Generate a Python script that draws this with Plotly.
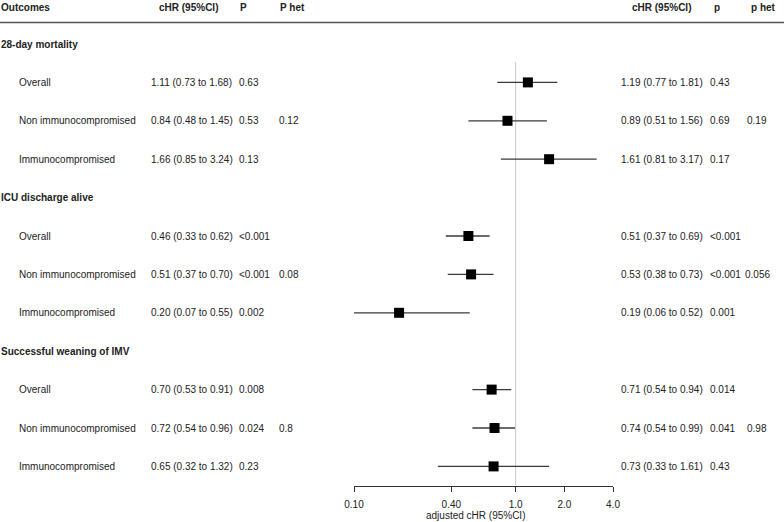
import math
import plotly.graph_objects as go

# ---------------- data ----------------
sections = ["28-day mortality", "ICU discharge alive", "Successful weaning of IMV"]
subgroups = ["Overall", "Non immunocompromised", "Immunocompromised"]

crude_hr = [1.11, 0.84, 1.66, 0.46, 0.51, 0.20, 0.70, 0.72, 0.65]
crude_lo = [0.73, 0.48, 0.85, 0.33, 0.37, 0.07, 0.53, 0.54, 0.32]
crude_hi = [1.68, 1.45, 3.24, 0.62, 0.70, 0.55, 0.91, 0.96, 1.32]
crude_p = ["0.63", "0.53", "0.13", "<0.001", "<0.001", "0.002", "0.008", "0.024", "0.23"]
crude_phet = ["", "0.12", "", "", "0.08", "", "", "0.8", ""]

adj_hr = [1.19, 0.89, 1.61, 0.51, 0.53, 0.19, 0.71, 0.74, 0.73]
adj_lo = [0.77, 0.51, 0.81, 0.37, 0.38, 0.06, 0.54, 0.54, 0.33]
adj_hi = [1.81, 1.56, 3.17, 0.69, 0.73, 0.52, 0.94, 0.99, 1.61]
adj_p = ["0.43", "0.69", "0.17", "<0.001", "<0.001", "0.001", "0.014", "0.041", "0.43"]
adj_phet = ["", "0.19", "", "", "0.056", "", "", "0.98", ""]

tick_vals = [0.1, 0.4, 1.0, 2.0, 4.0]
tick_text = ["0.10", "0.40", "1.0", "2.0", "4.0"]
x_title = "adjusted cHR (95%CI)"

left_headers = ["Outcomes", "cHR (95%CI)", "P", "P het"]
right_headers = ["cHR (95%CI)", "p", "p het"]

# ---------------- layout helpers ----------------
W, H = 784, 522
FONT = "Liberation Sans, Arial, sans-serif"
TXT = "#222222"
ROW0_PX, ROW_STEP = 44.0, 38.4
AXIS_PX = 486.0


def px2row(py):
    return (py - ROW0_PX) / ROW_STEP


def px(x):
    return x / W


n_sub = len(subgroups)
sec_rows = [s * (n_sub + 1) for s in range(len(sections))]
sub_rows = [s * (n_sub + 1) + k + 1 for s in range(len(sections)) for k in range(n_sub)]
sub_labels = [subgroups[k] for s in range(len(sections)) for k in range(n_sub)]

fig = go.Figure()

# CI lines
xs, ys = [], []
for lo, hi, r in zip(adj_lo, adj_hi, sub_rows):
    xs += [lo, hi, None]
    ys += [r, r, None]
fig.add_trace(go.Scatter(x=xs, y=ys, mode="lines",
                         line=dict(color="#3a3a3a", width=1.3),
                         hoverinfo="skip", showlegend=False))
# point estimates
fig.add_trace(go.Scatter(x=adj_hr, y=sub_rows, mode="markers",
                         marker=dict(symbol="square", size=10, color="black",
                                     line=dict(width=0)),
                         showlegend=False))

# reference line at 1
fig.add_shape(type="line", xref="x", yref="y", x0=1, x1=1,
              y0=px2row(62), y1=px2row(485),
              line=dict(color="#c8c8c8", width=1), layer="below")
# header rule
fig.add_shape(type="line", xref="paper", yref="y", x0=0, x1=1,
              y0=px2row(22.5), y1=px2row(22.5),
              line=dict(color="#555555", width=1.6))

ann = []


def text(x_px, row, s, bold=False, anchor="left"):
    ann.append(dict(x=px(x_px), y=row, xref="paper", yref="y", text=(f"<b>{s}</b>" if bold else s),
                    showarrow=False, xanchor=anchor, yanchor="middle",
                    font=dict(family=FONT, size=10, color=TXT),
                    borderpad=0, borderwidth=0))


hdr_row = px2row(7)
for s, xp in zip(left_headers, [1, 159, 240, 280]):
    text(xp, hdr_row, s, bold=True)
for s, xp in zip(right_headers, [632, 714, 751]):
    text(xp, hdr_row, s, bold=True)

for s, r in zip(sections, sec_rows):
    text(1, r, s, bold=True)

for i, r in enumerate(sub_rows):
    text(19, r, sub_labels[i])
    text(151, r, f"{crude_hr[i]:.2f} ({crude_lo[i]:.2f} to {crude_hi[i]:.2f})")
    text(239, r, crude_p[i])
    if crude_phet[i]:
        text(279, r, crude_phet[i])
    text(621, r, f"{adj_hr[i]:.2f} ({adj_lo[i]:.2f} to {adj_hi[i]:.2f})")
    text(710, r, adj_p[i])
    if adj_phet[i]:
        text(757, r, adj_phet[i], anchor="center")

# axis title
ann.append(dict(x=px(476), y=1 - 515 / H, xref="paper", yref="paper", text=x_title,
                showarrow=False, xanchor="center", yanchor="middle",
                font=dict(family=FONT, size=10, color=TXT),
                borderpad=0, borderwidth=0))

fig.update_layout(
    width=W, height=H,
    margin=dict(l=0, r=0, t=0, b=0, pad=0, autoexpand=False),
    paper_bgcolor="white", plot_bgcolor="white",
    annotations=ann,
    xaxis=dict(type="log", domain=[px(354), px(613)],
               range=[math.log10(tick_vals[0]), math.log10(tick_vals[-1])],
               tickvals=tick_vals, ticktext=tick_text,
               showline=True, linecolor="#333333", linewidth=1,
               ticks="outside", ticklen=5, tickcolor="#333333", tickwidth=1,
               ticklabelstandoff=4,
               showgrid=False, zeroline=False, automargin=False,
               tickfont=dict(family=FONT, size=10, color=TXT),
               anchor="y", fixedrange=True),
    yaxis=dict(domain=[1 - AXIS_PX / H, 1], range=[px2row(AXIS_PX), px2row(0)],
               visible=False, fixedrange=True, automargin=False),
    font=dict(family=FONT, size=10, color=TXT),
)

fig.write_html("out.html", config={"displayModeBar": False, "staticPlot": True},
               post_script="document.body.style.margin='0';document.body.style.overflow='hidden';")
